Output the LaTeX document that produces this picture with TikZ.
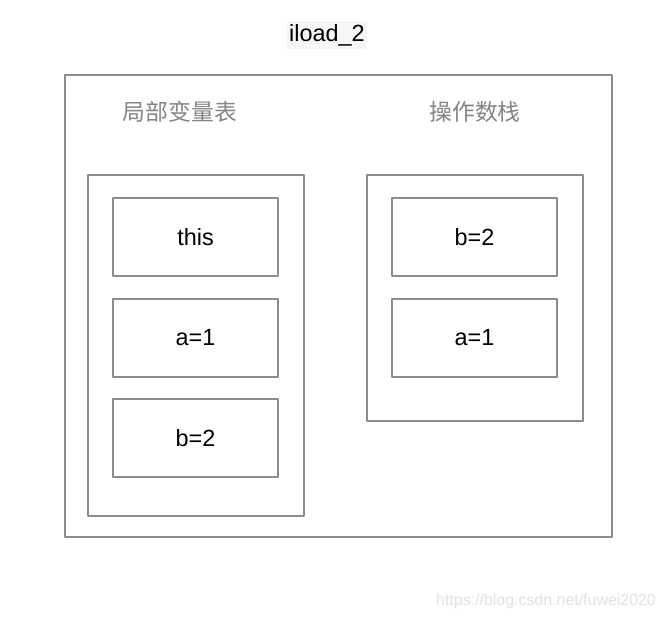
\documentclass[tikz,border=0pt]{standalone}
\usepackage{fontspec}
\setmainfont{Liberation Sans}
\newfontfamily\cjk{Noto Sans CJK SC}
\usetikzlibrary{positioning}
\definecolor{framegray}{HTML}{8C8C8C}
\definecolor{headgray}{HTML}{858585}
\definecolor{titlebg}{HTML}{F6F6F6}
\definecolor{markgray}{HTML}{E2E2E2}
\begin{document}
\begin{tikzpicture}[x=0.03cm,y=-0.03cm,line join=round,line cap=round]
	\tikzset{every node/.style={font=\fontsize{20}{24}\selectfont},
		frame/.style={draw=framegray,line width=0.9pt},
		slot/.style={frame,minimum width=165*0.03cm,minimum height=78*0.03cm,inner sep=0pt},
		head/.style={text=headgray,font=\cjk\fontsize{19.5}{24}\selectfont}}
	\useasboundingbox[fill=white] (0,0) rectangle (668,620);
	\node[fill=titlebg,inner xsep=2pt,inner ysep=3pt] (title) at (327,35) {iload\_2};
	\draw[frame] (65,75) rectangle (612,537);
	\node[head] (localvar) at (180,112) {局部变量表};
	\node[head] (opstack) at (475,112) {操作数栈};
	\draw[frame] (88,175) rectangle (304,516);
	\draw[frame] (367,175) rectangle (583,421);
	\foreach \y/\t [count=\i] in {237/this,338/a=1,438/b=2}
		\node[slot] (local\i) at (195.5,\y) {\t};
	\foreach \y/\t [count=\i] in {237/b=2,338/a=1}
		\node[slot] (stack\i) at (474.5,\y) {\t};
	\node[text=markgray,font=\fontsize{13.6}{16}\selectfont,anchor=east] (mark) at (660,601) {https://blog.csdn.net/fuwei2020};
\end{tikzpicture}
\end{document}
